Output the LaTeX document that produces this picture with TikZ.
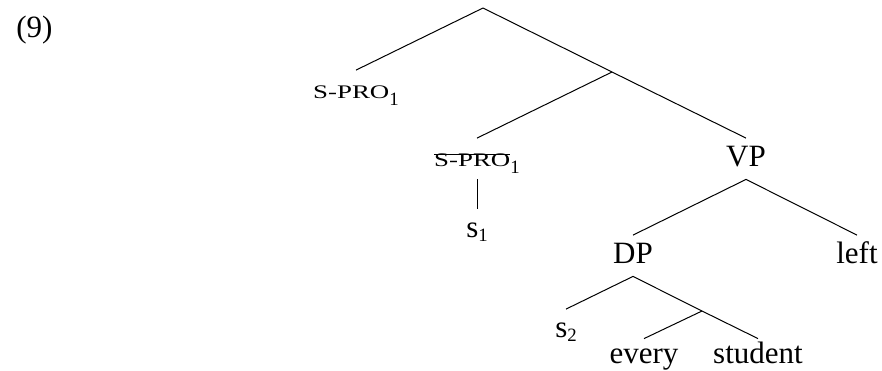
\documentclass[tikz,border=0pt]{standalone}
\usepackage{fontspec}
\setmainfont{Liberation Serif}
% wide face for the small-capital labels
\newfontfamily\scfont[FakeStretch=1.4]{Liberation Serif}
\newcommand\smcap[1]{{\scfont\fontsize{9.6pt}{11pt}\selectfont #1}}
% lowered index digit
\newcommand\idx[2][2pt]{\raisebox{-#1}{\fontsize{9.4pt}{11pt}\selectfont #2}}
% struck-through text
\newsavebox\crossbox
\newcommand\crossout[1]{\sbox\crossbox{#1}\rlap{\rule[5.6pt]{\wd\crossbox}{0.5pt}}\usebox\crossbox}

\begin{document}
\begin{tikzpicture}[x=0.5pt,y=-0.5pt,
  lbl/.style={inner sep=2.5pt, text height=11.25pt, text depth=4pt, anchor=base,
              font=\fontsize{15.5pt}{18pt}\selectfont},
  branch/.style={line width=0.5pt}]
\useasboundingbox (0,0) rectangle (882,370);

% example number
\node[lbl, anchor=base west] (ex) at (11,37) {(9)};

% branching points without labels
\coordinate (root) at (483,8);
\coordinate (mid) at (612,72);
\coordinate (nmid) at (702,311);

% labels
\node[lbl] (pro) at (356,98) {\smcap{S-PRO}\idx[3.5pt]{1}};
\node[lbl] (cpro) at (477,166) {\crossout{\smcap{S-PRO}}\idx[3.5pt]{1}};
\node[lbl] (s1) at (477,237) {s\idx{1}};
\node[lbl] (vp) at (746,166) {VP};
\node[lbl] (dp) at (633,263) {DP};
\node[lbl] (left) at (857,263) {left};
\node[lbl] (s2) at (566,337) {s\idx{2}};
\node[lbl, text height=9.5pt] (every) at (644,363) {every};
\node[lbl, text height=9.5pt] (student) at (758,363) {student};

% branches
\draw[branch] (root) -- (pro.north);
\draw[branch] (root) -- (mid);
\draw[branch] (mid) -- (vp.north);
\draw[branch] (mid) -- (cpro.north);
\draw[branch] (cpro.south) -- (s1.north);
\draw[branch] (vp.south) -- (dp.north);
\draw[branch] (vp.south) -- (left.north);
\draw[branch] (dp.south) -- (s2.north);
\draw[branch] (dp.south) -- (nmid);
\draw[branch] (nmid) -- (every.north);
\draw[branch] (nmid) -- (student.north);
\end{tikzpicture}
\end{document}
